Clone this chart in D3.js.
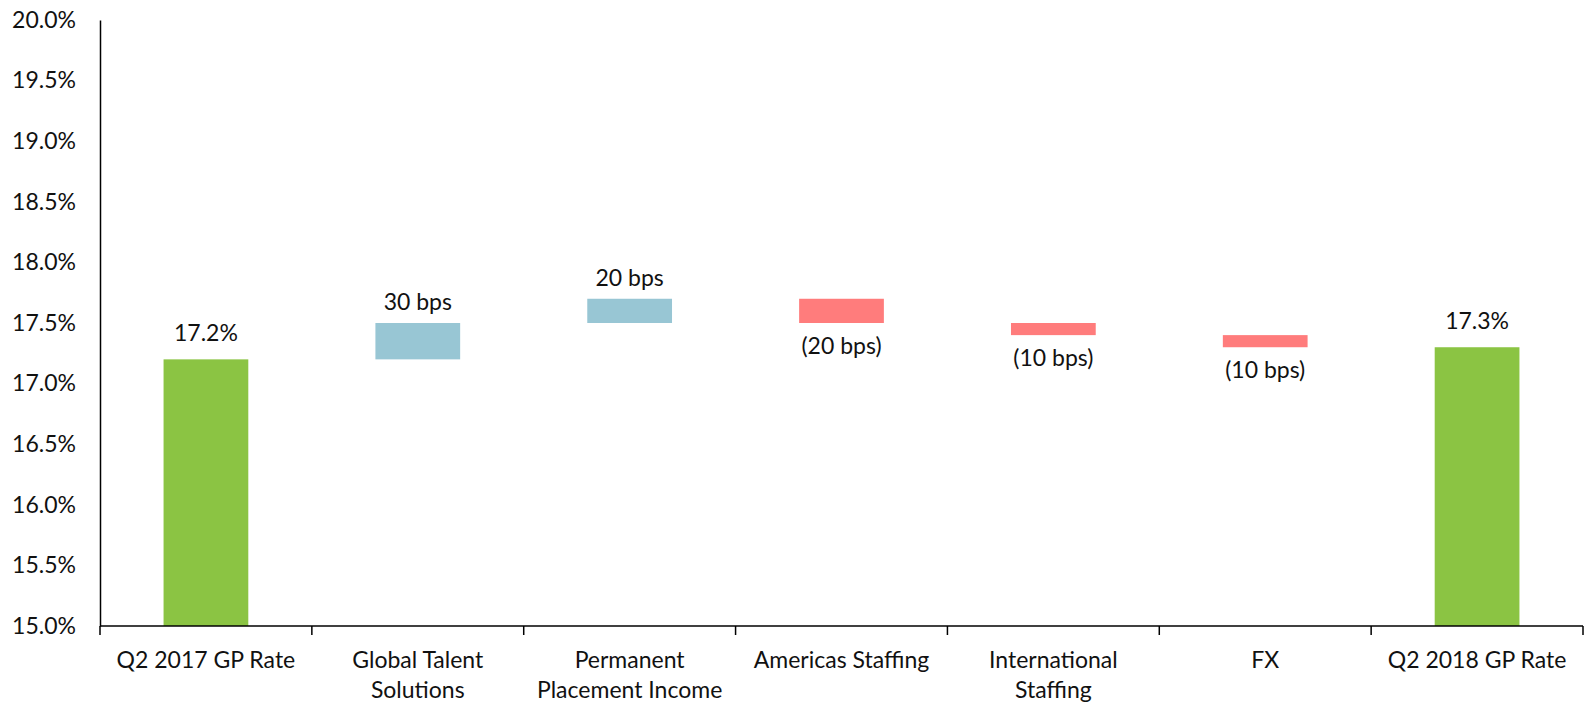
<!DOCTYPE html>
<html>
<head>
<meta charset="utf-8">
<script src="https://cdn.jsdelivr.net/npm/d3@7/dist/d3.min.js"></script>
<style>
  html, body { margin: 0; padding: 0; background: #ffffff; }
  svg text { font-family: "Lato", "Open Sans", sans-serif; fill: #111; }
</style>
</head>
<body>
<svg id="chart" width="1585" height="706"></svg>
<script>
// Gross profit rate bridge, Q2 2017 -> Q2 2018
const categories = [
  ["Q2 2017 GP Rate"],
  ["Global Talent", "Solutions"],
  ["Permanent", "Placement Income"],
  ["Americas Staffing"],
  ["International", "Staffing"],
  ["FX"],
  ["Q2 2018 GP Rate"]
];
// Totals are rates in %, steps are changes in basis points
const kinds = ["total", "step", "step", "step", "step", "step", "total"];
const values = [17.2, 30, 20, -20, -10, -10, 17.3];
const valueLabels = ["17.2%", "30 bps", "20 bps", "(20 bps)", "(10 bps)", "(10 bps)", "17.3%"];
const yTicks = [15.0, 15.5, 16.0, 16.5, 17.0, 17.5, 18.0, 18.5, 19.0, 19.5, 20.0];

const colors = { total: "#8BC443", up: "#98C6D4", down: "#FF7C7C" };

// Build running waterfall segments
let running = 0;
const bars = values.map((v, i) => {
  if (kinds[i] === "total") {
    running = v;
    return { i, y0: 15.0, y1: v, type: "total", label: valueLabels[i] };
  }
  const start = running;
  running = +(running + v / 100).toFixed(4);
  return { i, y0: Math.min(start, running), y1: Math.max(start, running),
           type: v >= 0 ? "up" : "down", label: valueLabels[i] };
});

const svg = d3.select("#chart");
const margin = { left: 100, right: 2, top: 20, bottom: 80 };
const fontSize = "23px";

const x = d3.scaleBand()
  .domain(d3.range(categories.length))
  .range([margin.left, 1583])
  .paddingInner(0)
  .paddingOuter(0);

const y = d3.scaleLinear()
  .domain([15.0, 20.0])
  .range([626, 20]);

const barW = x.bandwidth() * 0.4;

// Bars
svg.append("g").selectAll("rect")
  .data(bars)
  .join("rect")
  .attr("x", d => x(d.i) + (x.bandwidth() - barW) / 2)
  .attr("width", barW)
  .attr("y", d => y(d.y1))
  .attr("height", d => y(d.y0) - y(d.y1))
  .attr("fill", d => colors[d.type]);

// Value labels
svg.append("g").selectAll("text")
  .data(bars)
  .join("text")
  .attr("x", d => x(d.i) + x.bandwidth() / 2)
  .attr("y", d => d.type === "down" ? y(d.y0) + 31 : y(d.y1) - (d.type === "total" ? 18 : 13))
  .attr("text-anchor", "middle")
  .style("font-size", fontSize)
  .text(d => d.label);

// Y axis
const yAxis = d3.axisLeft(y)
  .tickValues(yTicks)
  .tickSize(0)
  .tickPadding(24)
  .tickFormat(d => d.toFixed(1) + "%");
const gy = svg.append("g")
  .attr("transform", `translate(${margin.left},0)`)
  .call(yAxis);
gy.select(".domain").attr("stroke", "#000").attr("stroke-width", 1.5);
gy.selectAll("text").style("font-size", fontSize).attr("fill", "#111");

// X axis: line with tick marks at category boundaries
const gx = svg.append("g").attr("transform", "translate(0,626)");
gx.append("line")
  .attr("x1", margin.left).attr("x2", 1583)
  .attr("stroke", "#000").attr("stroke-width", 1.5);
const bounds = d3.range(categories.length + 1).map(k => k === categories.length ? x.range()[1] : x(k));
gx.selectAll("line.tick")
  .data(bounds)
  .join("line")
  .attr("class", "tick")
  .attr("x1", d => d).attr("x2", d => d)
  .attr("y1", 0).attr("y2", 9)
  .attr("stroke", "#000").attr("stroke-width", 1.5);

// Category labels (wrapped onto lines)
const cat = gx.selectAll("text.cat")
  .data(categories)
  .join("text")
  .attr("class", "cat")
  .attr("text-anchor", "middle")
  .style("font-size", fontSize);
cat.each(function(lines, i) {
  const t = d3.select(this);
  lines.forEach((ln, k) => {
    t.append("tspan")
      .attr("x", x(i) + x.bandwidth() / 2)
      .attr("y", 42 + k * 30)
      .text(ln);
  });
});
</script>
</body>
</html>
